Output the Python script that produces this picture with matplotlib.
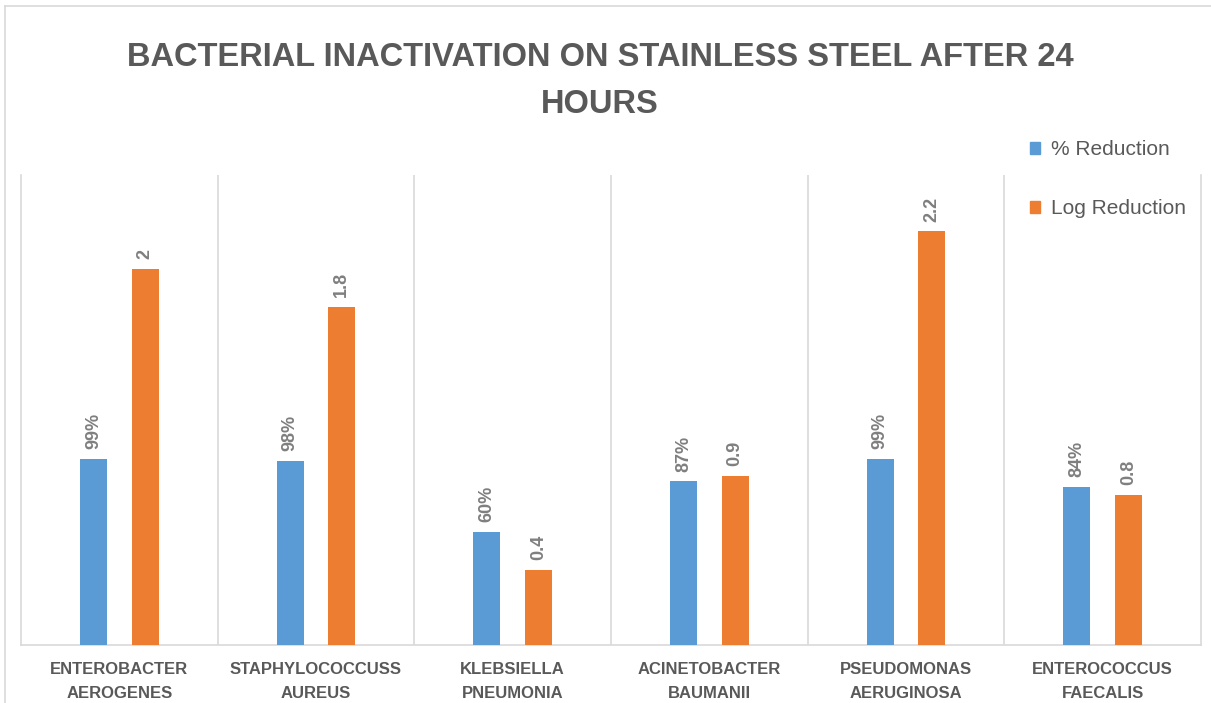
import numpy as np
import matplotlib.pyplot as plt
from matplotlib.lines import Line2D
from matplotlib.patches import Patch

# data
categories = ["ENTEROBACTER\nAEROGENES", "STAPHYLOCOCCUSS\nAUREUS", "KLEBSIELLA\nPNEUMONIA",
              "ACINETOBACTER\nBAUMANII", "PSEUDOMONAS\nAERUGINOSA", "ENTEROCOCCUS\nFAECALIS"]
pct_reduction = [0.99, 0.98, 0.60, 0.87, 0.99, 0.84]
log_reduction = [2.0, 1.8, 0.4, 0.9, 2.2, 0.8]
pct_labels = ["99%", "98%", "60%", "87%", "99%", "84%"]
log_labels = ["2", "1.8", "0.4", "0.9", "2.2", "0.8"]

BLUE = "#5B9BD5"
ORANGE = "#ED7D31"
GRID = "#D9D9D9"
TEXT = "#595959"
LABEL = "#7F7F7F"
FAM = ["Liberation Sans", "DejaVu Sans"]

W, H = 1211, 703
fig = plt.figure(figsize=(W / 100, H / 100), dpi=100)

# outer frame (left and top edges only visible)
fig.add_artist(Line2D([5 / W, 5 / W], [0, 1 - 6 / H], color=GRID, lw=1.2))
fig.add_artist(Line2D([5 / W, 1], [1 - 6 / H, 1 - 6 / H], color=GRID, lw=1.2))

ax = fig.add_axes([21 / W, 1 - 645 / H, 1180 / W, 470 / H])
x = np.arange(len(categories))
width = 0.137
off = 0.131
b1 = ax.bar(x - off, pct_reduction, width, color=BLUE, label="% Reduction", zorder=3)
b2 = ax.bar(x + off, log_reduction, width, color=ORANGE, label="Log Reduction", zorder=3)

for bars, labels in [(b1, pct_labels), (b2, log_labels)]:
    for rect, lab in zip(bars, labels):
        ax.annotate(lab, (rect.get_x() + rect.get_width() / 2, rect.get_height()),
                    xytext=(0, 7), textcoords="offset points", rotation=90,
                    ha="center", va="bottom", color=LABEL, fontsize=13, fontweight="bold",
                    family=FAM)

ax.set_xlim(-0.5, len(categories) - 0.5)
ax.set_ylim(0, 2.5)
ax.set_yticks([])
ax.set_xticks(x)
ax.set_xticklabels(categories, fontsize=12, fontweight="bold", color=TEXT, linespacing=1.75,
                   family=FAM)
ax.tick_params(axis="x", length=0, pad=12)

# category separators
for b in np.arange(0.5, len(categories) - 0.5, 1):
    ax.axvline(b, color=GRID, lw=1.2, zorder=1)
for side in ["left", "right", "bottom"]:
    ax.spines[side].set_color(GRID)
    ax.spines[side].set_linewidth(1.2)
ax.spines["top"].set_visible(False)

fig.text(600 / W, 1 - 81 / H, "BACTERIAL INACTIVATION ON STAINLESS STEEL AFTER 24\nHOURS",
         ha="center", va="center", fontsize=23.5, fontweight="bold", color=TEXT, linespacing=1.68,
         family=FAM)

handles = [Patch(color=BLUE, label="% Reduction"), Patch(color=ORANGE, label="Log Reduction")]
fig.legend(handles=handles, loc="upper left", bbox_to_anchor=(1030 / W, 1 - 140 / H),
           frameon=False, labelcolor=TEXT, handlelength=0.5, handleheight=0.5,
           handletextpad=0.5, labelspacing=1.93, borderpad=0, borderaxespad=0,
           prop={"family": FAM, "size": 15})

fig.savefig("out.png", dpi=100, facecolor="white")
